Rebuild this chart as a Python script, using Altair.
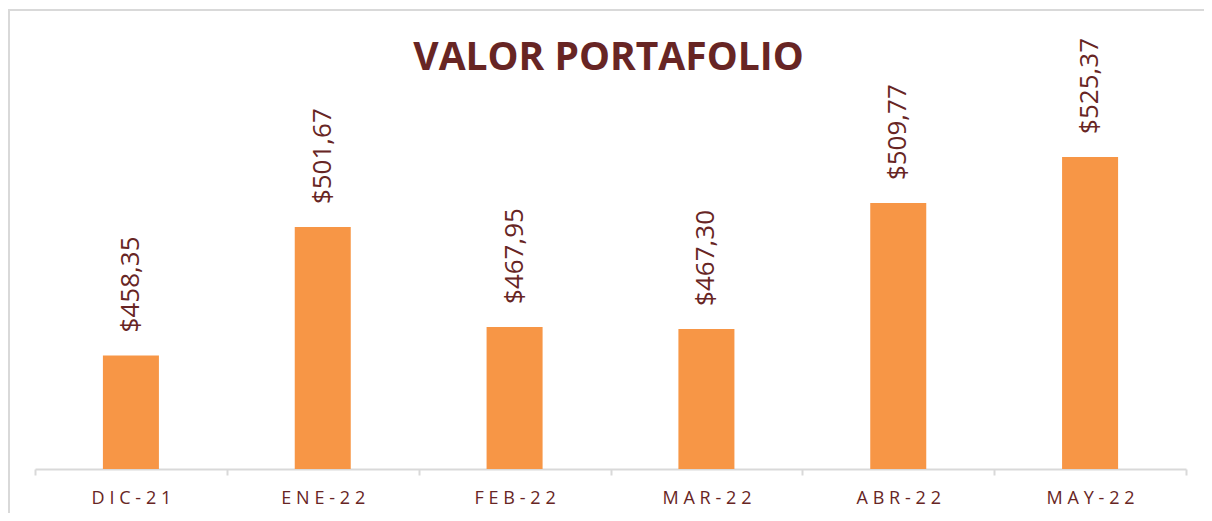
import altair as alt
import pandas as pd

months = ["DIC-21", "ENE-22", "FEB-22", "MAR-22", "ABR-22", "MAY-22"]
values = [458.35, 501.67, 467.95, 467.30, 509.77, 525.37]
title_text = "VALOR PORTAFOLIO"

# spaced-out tick labels (letter spacing imitation with thin + hair spaces)
spaced = ["\u2009\u200a".join(m) for m in months]
df = pd.DataFrame({"mes": spaced, "valor": values})
one = pd.DataFrame({"t": [title_text]})

W, H = 1151, 449
TXT = "#672524"
ORANGE = "#F79646"
GRAY = "#D9D9D9"
BASE = 420

x = alt.X("mes:N", sort=spaced, title=None,
          scale=alt.Scale(paddingInner=0, paddingOuter=0),
          axis=alt.Axis(tickBand="extent", labelAngle=0, domainColor=GRAY, domainWidth=2,
                        tickColor=GRAY, tickWidth=2, tickSize=6, labelPadding=14,
                        labelFont="Open Sans", labelFontSize=18, labelColor=TXT))
y = alt.Y("valor:Q", scale=alt.Scale(domain=[BASE, 571.6], zero=False, nice=False), axis=None)

base = alt.Chart(df)
bars = base.mark_bar(color=ORANGE, width={"band": 0.292}).encode(x=x, y=y, y2=alt.datum(BASE))
labels = base.transform_calculate(
    lab="'$' + replace(format(datum.valor, '.2f'), '.', ',')"
).mark_text(angle=270, align="left", baseline="middle", dx=23, font="Open Sans",
            fontSize=26, color=TXT).encode(x=x, y=y, text="lab:N")

title = alt.Chart(one).mark_text(font="Open Sans", fontSize=39, fontWeight="bold", color=TXT,
                                 align="center", baseline="alphabetic").encode(
    x=alt.value(W / 2 - 2), y=alt.value(50), text="t:N")

border = alt.Chart(one).mark_rect(fill=None, stroke=GRAY, strokeWidth=2).encode(
    x=alt.value(-26), y=alt.value(-10), x2=alt.value(W + 40), y2=alt.value(H + 80))

chart = alt.layer(border, bars, labels, title).properties(
    width=W, height=H,
    autosize=alt.AutoSizeParams(type="none"),
    padding={"left": 27, "right": 18, "top": 12, "bottom": 44},
    view=alt.ViewBackground(stroke="transparent", strokeWidth=0),
).configure_view(stroke="transparent", strokeWidth=0).configure(background="white")

chart.save("out.html", embed_options={"renderer": "svg", "actions": False})
